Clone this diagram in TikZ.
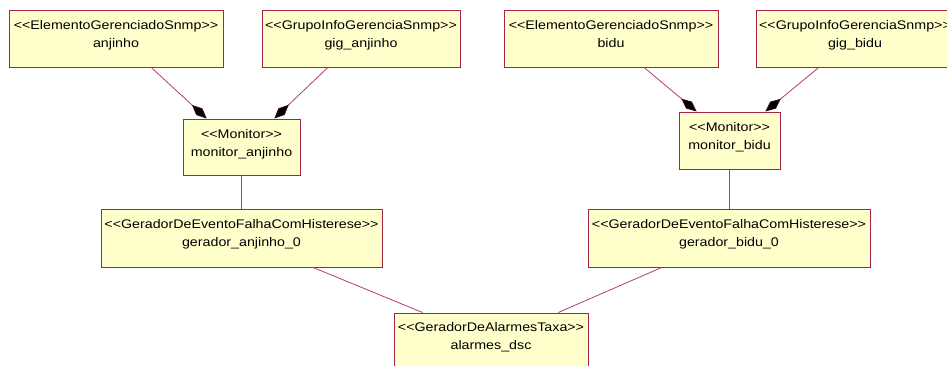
\documentclass[tikz,border=0pt]{standalone}
\usepackage{fontspec}
\usepackage{tikz}
\usetikzlibrary{calc,arrows.meta}
\newfontfamily\umlfont{Liberation Sans}[FakeStretch=1.14]
\definecolor{umlborder}{RGB}{165,35,70}
\definecolor{umlline}{RGB}{180,60,105}
\definecolor{umlfill}{RGB}{255,255,204}
\tikzset{
	umlbox/.style={draw=umlborder, fill=umlfill, line width=1pt, inner sep=0pt},
	umltext/.style={anchor=north, inner sep=0pt, align=center, yshift=-11pt,
		font=\umlfont\fontsize{12.5}{18}\selectfont},
	assoc/.style={draw=umlline, line width=0.8pt},
	compo/.style={assoc, -{Diamond[length=20pt,width=9pt,fill=black,color=black!70!umlborder]}}
}

\begin{document}
\begin{tikzpicture}[x=1pt, y=-1pt]
		%%%%% START %%%%%
		\useasboundingbox (0,0) rectangle (947,365);
		\clip (0,0) rectangle (947,365);
		
		% top row
		\node[umlbox, minimum width=214pt, minimum height=57pt] (anjinho) at (116, 38.5) {};
		\node[umltext] (anjinho-t) at (anjinho.north) {<{}<ElementoGerenciadoSnmp>{}>\\anjinho};
		\node[umlbox, minimum width=198pt, minimum height=57pt] (giganjinho) at (361, 38.5) {};
		\node[umltext] (giganjinho-t) at (giganjinho.north) {<{}<GrupoInfoGerenciaSnmp>{}>\\gig\_anjinho};
		\node[umlbox, minimum width=214pt, minimum height=57pt] (bidu) at (611, 38.5) {};
		\node[umltext] (bidu-t) at (bidu.north) {<{}<ElementoGerenciadoSnmp>{}>\\bidu};
		\node[umlbox, minimum width=198pt, minimum height=57pt] (gigbidu) at (855, 38.5) {};
		\node[umltext] (gigbidu-t) at (gigbidu.north) {<{}<GrupoInfoGerenciaSnmp>{}>\\gig\_bidu};
		
		% monitors
		\node[umlbox, minimum width=117pt, minimum height=56pt] (monanjinho) at (241.5, 147) {};
		\node[umltext] (monanjinho-t) at (monanjinho.north) {<{}<Monitor>{}>\\monitor\_anjinho};
		\node[umlbox, minimum width=101pt, minimum height=57pt] (monbidu) at (729.5, 140.5) {};
		\node[umltext] (monbidu-t) at (monbidu.north) {<{}<Monitor>{}>\\monitor\_bidu};
		
		% geradores
		\node[umlbox, minimum width=281pt, minimum height=58pt] (geranjinho) at (241.5, 238) {};
		\node[umltext] (geranjinho-t) at (geranjinho.north) {<{}<GeradorDeEventoFalhaComHisterese>{}>\\gerador\_anjinho\_0};
		\node[umlbox, minimum width=282pt, minimum height=58pt] (gerbidu) at (729, 238) {};
		\node[umltext] (gerbidu-t) at (gerbidu.north) {<{}<GeradorDeEventoFalhaComHisterese>{}>\\gerador\_bidu\_0};
		
		\node[umlbox, minimum width=194pt, minimum height=57pt] (alarmes) at (491, 341.5) {};
		\node[umltext, yshift=1pt] (alarmes-t) at (alarmes.north) {<{}<GeradorDeAlarmesTaxa>{}>\\alarmes\_dsc};
		
		% composicoes
		\draw[compo] ($(anjinho.south west)!0.664!(anjinho.south east)$) -- ($(monanjinho.north west)!0.205!(monanjinho.north east)$);
		\draw[compo] ($(giganjinho.south west)!0.333!(giganjinho.south east)$) -- ($(monanjinho.north west)!0.778!(monanjinho.north east)$);
		\draw[compo] ($(bidu.south west)!0.654!(bidu.south east)$) -- ($(monbidu.north west)!0.178!(monbidu.north east)$);
		\draw[compo] ($(gigbidu.south west)!0.318!(gigbidu.south east)$) -- ($(monbidu.north west)!0.851!(monbidu.north east)$);
		
		% associacoes
		\draw[assoc] (monanjinho.south) -- (monanjinho.south |- geranjinho.north);
		\draw[assoc] (monbidu.south) -- (monbidu.south |- gerbidu.north);
		\draw[assoc] ($(geranjinho.south west)!0.754!(geranjinho.south east)$) -- ($(alarmes.north west)!0.149!(alarmes.north east)$);
		\draw[assoc] ($(gerbidu.south west)!0.262!(gerbidu.south east)$) -- ($(alarmes.north west)!0.845!(alarmes.north east)$);
		%%%%% END %%%%%
	\end{tikzpicture}
\end{document}
